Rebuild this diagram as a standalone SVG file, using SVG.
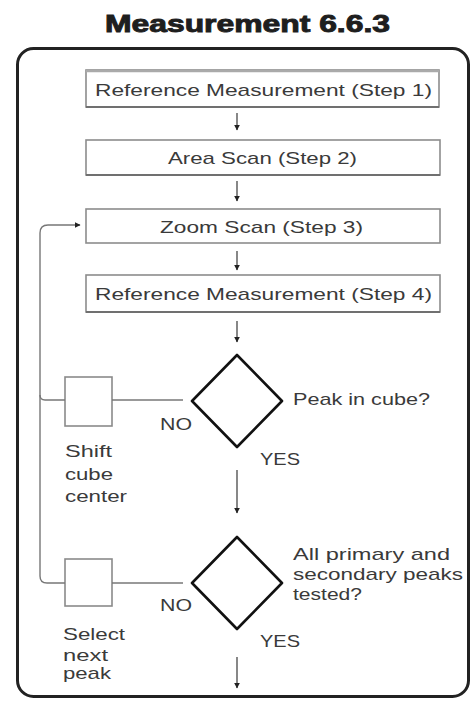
<svg xmlns="http://www.w3.org/2000/svg" width="473" height="704" viewBox="0 0 473 704">
<style>
text{font-family:"Liberation Sans",Arial,sans-serif;fill:#3a3a3a;font-size:17px}
.title{font-size:23px;font-weight:bold;fill:#1e1e1e;stroke:#1e1e1e;stroke-width:0.9}
.box{fill:#fff;stroke:#8c8c8c;stroke-width:1.6}
.shadow{stroke:#707070;stroke-width:2.2;fill:none}
.dia{fill:#fff;stroke:#111;stroke-width:2.6;stroke-linejoin:round}
.sq{fill:#fff;stroke:#8a8a8a;stroke-width:1.6}
.ln{fill:none;stroke:#555;stroke-width:1.4}
.fb{fill:none;stroke:#777;stroke-width:1.4}
</style>
<defs>
<marker id="ah" viewBox="0 0 10 10" refX="9" refY="5" markerWidth="6" markerHeight="6" markerUnits="userSpaceOnUse" orient="auto">
<path d="M0,0 L10,5 L0,10 z" fill="#222"/>
</marker>
</defs>
<text class="title" x="105" y="32" textLength="285" lengthAdjust="spacingAndGlyphs">Measurement 6.6.3</text>
<rect id="frame" x="17.5" y="48.5" width="451" height="648" rx="16" fill="none" stroke="#222" stroke-width="3"/>
<g id="step1">
<rect class="box" x="86" y="70" width="353" height="37"/>
<line x1="86" y1="71" x2="439" y2="71" stroke="#aaa" stroke-width="2.5"/>
<line class="shadow" x1="86" y1="107" x2="439" y2="107"/>
<text x="95" y="96" textLength="337" lengthAdjust="spacingAndGlyphs">Reference Measurement (Step 1)</text>
</g>
<g id="step2">
<rect class="box" x="86" y="140" width="354" height="35"/>
<line class="shadow" x1="86" y1="175" x2="440" y2="175"/>
<text x="168" y="164" textLength="189" lengthAdjust="spacingAndGlyphs">Area Scan (Step 2)</text>
</g>
<g id="step3">
<rect class="box" x="86" y="209" width="354" height="34"/>
<text x="160" y="233" textLength="203" lengthAdjust="spacingAndGlyphs">Zoom Scan (Step 3)</text>
</g>
<g id="step4">
<rect class="box" x="86" y="275" width="354" height="37"/>
<line class="shadow" x1="86" y1="312" x2="440" y2="312"/>
<text x="95" y="300" textLength="337" lengthAdjust="spacingAndGlyphs">Reference Measurement (Step 4)</text>
</g>
<g id="decision1">
<path class="dia" d="M237,355 L282,401 L237,447 L192,401 Z"/>
<text x="293" y="405" textLength="137" lengthAdjust="spacingAndGlyphs">Peak in cube?</text>
</g>
<g id="shift">
<rect class="sq" x="65" y="377" width="47" height="49"/>
<text x="65" y="457" textLength="47" lengthAdjust="spacingAndGlyphs">Shift</text>
<text x="65" y="480" textLength="48" lengthAdjust="spacingAndGlyphs">cube</text>
<text x="65" y="502" textLength="62" lengthAdjust="spacingAndGlyphs">center</text>
</g>
<g id="decision2">
<path class="dia" d="M237,537 L282,583 L237,629 L192,583 Z"/>
<text x="293" y="560" textLength="157" lengthAdjust="spacingAndGlyphs">All primary and</text>
<text x="293" y="580" textLength="170" lengthAdjust="spacingAndGlyphs">secondary peaks</text>
<text x="293" y="600" textLength="69" lengthAdjust="spacingAndGlyphs">tested?</text>
</g>
<g id="select">
<rect class="sq" x="65" y="559" width="47" height="47"/>
<text x="63" y="640" textLength="62" lengthAdjust="spacingAndGlyphs">Select</text>
<text x="63" y="661" textLength="45" lengthAdjust="spacingAndGlyphs">next</text>
<text x="63" y="679" textLength="48" lengthAdjust="spacingAndGlyphs">peak</text>
</g>
<g id="labels">
<text x="160" y="430" textLength="32" lengthAdjust="spacingAndGlyphs">NO</text>
<text x="260" y="465" textLength="40" lengthAdjust="spacingAndGlyphs">YES</text>
<text x="160" y="611" textLength="32" lengthAdjust="spacingAndGlyphs">NO</text>
<text x="260" y="647" textLength="40" lengthAdjust="spacingAndGlyphs">YES</text>
</g>
<g id="connectors">
<line class="ln" x1="237" y1="113" x2="237" y2="130" marker-end="url(#ah)"/>
<line class="ln" x1="237" y1="181" x2="237" y2="201" marker-end="url(#ah)"/>
<line class="ln" x1="237" y1="251" x2="237" y2="270" marker-end="url(#ah)"/>
<line class="ln" x1="237" y1="321" x2="237" y2="342" marker-end="url(#ah)"/>
<line class="ln" x1="237" y1="470" x2="237" y2="513" marker-end="url(#ah)"/>
<line class="ln" x1="237" y1="657" x2="237" y2="688" marker-end="url(#ah)"/>
<line class="fb" x1="112" y1="400" x2="183" y2="400"/>
<line class="fb" x1="112" y1="583" x2="183" y2="583"/>
<path class="fb" d="M65,400 H45 Q40,400 40,395"/>
<path class="fb" d="M65,583 H47 Q40,583 40,576 V233 Q40,225 48,225 H80" marker-end="url(#ah)"/>
</g>
</svg>
